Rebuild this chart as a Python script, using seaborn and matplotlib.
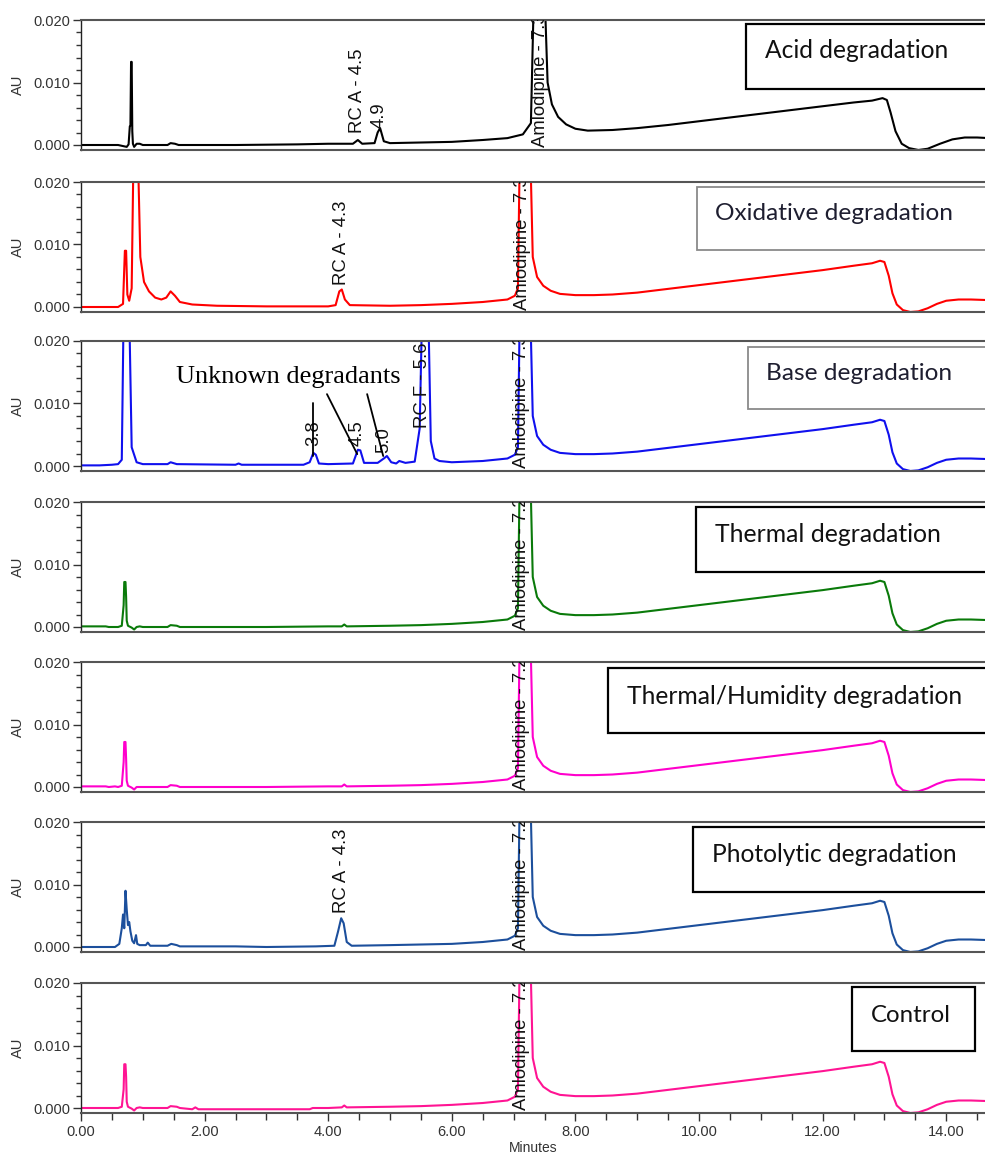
import matplotlib
matplotlib.use("Agg")
import matplotlib.pyplot as plt
from matplotlib.patches import Rectangle
from matplotlib.ticker import MultipleLocator, FormatStrFormatter
import pandas as pd
import seaborn as sns

# ---------------- data (minutes, AU) ----------------
acid_t = [0.00, 0.40, 0.60, 0.74, 0.77, 0.79, 0.80, 0.81, 0.82, 0.83, 0.84, 0.86, 0.90, 0.95, 1.00,
          1.40, 1.45, 1.52, 1.58, 2.50, 3.50, 4.00, 4.40, 4.48, 4.55, 4.75, 4.80, 4.84, 4.90, 5.00,
          5.50, 6.00, 6.50, 6.90, 7.15, 7.28, 7.33, 7.50, 7.55, 7.62, 7.72, 7.85, 8.00, 8.20, 8.60,
          9.00, 9.50, 10.00, 10.50, 11.00, 11.50, 12.00, 12.50, 12.80, 12.97, 13.04, 13.10, 13.18,
          13.28, 13.40, 13.55, 13.70, 13.90, 14.10, 14.30, 14.50, 14.70]
acid_au = [0.0000, 0.0000, 0.0000, -0.0003, 0.0001, 0.0030, 0.0031, 0.0133, 0.0133, 0.0022, 0.0002,
           -0.0003, 0.0002, 0.0002, 0.0000, 0.0000, 0.0003, 0.0002, 0.0000, 0.0000, 0.0001, 0.0002,
           0.0002, 0.0008, 0.0002, 0.0003, 0.0020, 0.0027, 0.0006, 0.0003, 0.0004, 0.0005, 0.0008,
           0.0011, 0.0017, 0.0035, 0.0250, 0.0250, 0.0100, 0.0065, 0.0045, 0.0033, 0.0026, 0.0023,
           0.0024, 0.0027, 0.0032, 0.0038, 0.0044, 0.0050, 0.0056, 0.0062, 0.0068, 0.0071, 0.0075,
           0.0072, 0.0052, 0.0022, 0.0002, -0.0005, -0.0008, -0.0006, 0.0002, 0.0009, 0.0012,
           0.0012, 0.0011]

oxid_t = [0.00, 0.60, 0.68, 0.71, 0.73, 0.75, 0.78, 0.82, 0.85, 0.92, 0.96, 1.02, 1.10, 1.20, 1.30,
          1.38, 1.45, 1.52, 1.60, 1.80, 2.20, 3.00, 4.00, 4.12, 4.18, 4.22, 4.27, 4.35, 5.00, 5.50, 6.00]
oxid_au = [0.0000, 0.0000, 0.0005, 0.0090, 0.0090, 0.0020, 0.0010, 0.0030, 0.0250, 0.0250, 0.0080,
           0.0040, 0.0025, 0.0015, 0.0012, 0.0015, 0.0025, 0.0018, 0.0008, 0.0004, 0.0002, 0.0001,
           0.0001, 0.0003, 0.0025, 0.0028, 0.0012, 0.0003, 0.0002, 0.0003, 0.0005]

base_t = [0.00, 0.30, 0.50, 0.60, 0.66, 0.69, 0.78, 0.82, 0.90, 1.00, 1.40, 1.45, 1.55, 2.50, 2.55,
          2.60, 3.60, 3.70, 3.76, 3.80, 3.85, 4.00, 4.40, 4.48, 4.52, 4.58, 4.80, 4.90, 4.95, 5.02,
          5.10, 5.15, 5.25, 5.40, 5.48, 5.52, 5.62, 5.66, 5.72, 5.80, 6.00]
base_au = [0.0001, 0.0001, 0.0002, 0.0003, 0.0010, 0.0250, 0.0250, 0.0030, 0.0006, 0.0003, 0.0003,
           0.0006, 0.0003, 0.0002, 0.0004, 0.0002, 0.0002, 0.0006, 0.0021, 0.0018, 0.0004, 0.0003,
           0.0004, 0.0026, 0.0025, 0.0005, 0.0005, 0.0012, 0.0016, 0.0006, 0.0004, 0.0008, 0.0005,
           0.0007, 0.0060, 0.0250, 0.0250, 0.0040, 0.0012, 0.0008, 0.0006]

therm_t = [0.00, 0.40, 0.45, 0.60, 0.66, 0.69, 0.70, 0.72, 0.73, 0.74, 0.76, 0.82, 0.86, 0.90, 0.95,
           1.00, 1.40, 1.45, 1.55, 1.60, 3.00, 4.00, 4.22, 4.26, 4.30, 5.00, 5.50, 6.00]
therm_au = [0.0001, 0.0001, 0.0000, 0.0000, 0.0002, 0.0035, 0.0072, 0.0072, 0.0048, 0.0010, 0.0002,
            -0.0001, -0.0004, 0.0000, 0.0001, 0.0000, 0.0000, 0.0003, 0.0002, 0.0000, 0.0000,
            0.0001, 0.0001, 0.0004, 0.0001, 0.0002, 0.0003, 0.0005]

humid_t = [0.00, 0.40, 0.45, 0.55, 0.60, 0.66, 0.69, 0.70, 0.72, 0.73, 0.74, 0.76, 0.82, 0.86, 0.90,
           1.00, 1.40, 1.45, 1.55, 1.60, 3.00, 4.00, 4.22, 4.26, 4.30, 5.00, 5.50, 6.00]
humid_au = [0.0001, 0.0001, 0.0000, 0.0001, 0.0000, 0.0002, 0.0040, 0.0072, 0.0072, 0.0045, 0.0010,
            0.0002, -0.0001, -0.0004, 0.0000, 0.0000, 0.0000, 0.0003, 0.0002, 0.0000, 0.0000,
            0.0001, 0.0001, 0.0004, 0.0001, 0.0002, 0.0003, 0.0005]

photo_t = [0.00, 0.55, 0.62, 0.66, 0.68, 0.70, 0.72, 0.74, 0.76, 0.78, 0.80, 0.83, 0.86, 0.89, 0.91,
           0.95, 1.05, 1.08, 1.12, 1.40, 1.46, 1.55, 1.60, 2.50, 3.00, 3.80, 4.10, 4.16, 4.21, 4.25,
           4.30, 4.38, 5.00, 5.50, 6.00]
photo_au = [0.0000, 0.0000, 0.0005, 0.0030, 0.0052, 0.0030, 0.0090, 0.0060, 0.0035, 0.0040, 0.0025,
            0.0010, 0.0006, 0.0019, 0.0005, 0.0003, 0.0003, 0.0007, 0.0002, 0.0002, 0.0005, 0.0003,
            0.0001, 0.0001, 0.0000, 0.0001, 0.0002, 0.0025, 0.0046, 0.0038, 0.0008, 0.0002, 0.0003,
            0.0004, 0.0005]

ctrl_t = [0.00, 0.60, 0.66, 0.69, 0.70, 0.72, 0.73, 0.74, 0.76, 0.82, 0.86, 0.90, 0.95, 1.00, 1.40,
          1.45, 1.55, 1.60, 1.80, 1.85, 1.90, 3.70, 3.75, 4.00, 4.22, 4.26, 4.30, 5.00, 5.50, 6.00]
ctrl_au = [0.0000, 0.0000, 0.0002, 0.0030, 0.0070, 0.0070, 0.0050, 0.0010, 0.0002, -0.0001, -0.0004,
           0.0000, 0.0001, 0.0000, 0.0000, 0.0003, 0.0002, 0.0000, -0.0002, 0.0001, -0.0002,
           -0.0002, 0.0000, 0.0000, 0.0001, 0.0004, 0.0001, 0.0002, 0.0003, 0.0005]

# amlodipine peak region shared by panels 2-7
amlo_t = [6.50, 6.90, 7.02, 7.07, 7.10, 7.27, 7.31, 7.38, 7.48, 7.60]
amlo_au = [0.0008, 0.0012, 0.0018, 0.0030, 0.0250, 0.0250, 0.0080, 0.0048, 0.0034, 0.0026]

# gradient baseline (after amlodipine) shared by panels 2-7
grad_t = [7.75, 8.00, 8.30, 8.60, 9.00, 9.50, 10.00, 10.50, 11.00, 11.50, 12.00, 12.50, 12.80,
          12.93, 13.00, 13.07, 13.13, 13.20, 13.30, 13.42, 13.55, 13.70, 13.85, 14.00, 14.20,
          14.40, 14.70]
grad_au = [0.0021, 0.0019, 0.0019, 0.0020, 0.0023, 0.0029, 0.0035, 0.0041, 0.0047, 0.0053, 0.0059,
           0.0066, 0.0070, 0.0074, 0.0072, 0.0050, 0.0022, 0.0004, -0.0005, -0.0008, -0.0007,
           -0.0002, 0.0005, 0.0010, 0.0012, 0.0012, 0.0011]

sample_names = ["Acid degradation", "Oxidative degradation", "Base degradation",
                "Thermal degradation", "Thermal/Humidity degradation",
                "Photolytic degradation", "Control"]

peak_labels = [
    [("RC A - 4.5", 4.48, 0.0019), ("4.9", 4.83, 0.0028), ("Amlodipine - 7.3", 7.43, -0.0003)],
    [("RC A - 4.3", 4.21, 0.0035), ("Amlodipine - 7.3", 7.14, -0.0005)],
    [("3.8", 3.77, 0.0032), ("4.5", 4.47, 0.0032), ("5.0", 4.90, 0.0021),
     ("RC F - 5.6", 5.53, 0.0061), ("Amlodipine - 7.3", 7.12, -0.0003)],
    [("Amlodipine - 7.2", 7.13, -0.0004)],
    [("Amlodipine - 7.2", 7.13, -0.0004)],
    [("RC A - 4.3", 4.21, 0.0055), ("Amlodipine - 7.2", 7.13, -0.0004)],
    [("Amlodipine - 7.2", 7.13, -0.0004)],
]

# ---------------- styling / layout ----------------
sns.set_theme(style="ticks")
plt.rcParams["font.family"] = ["Liberation Sans", "DejaVu Sans"]

colors = ["#000000", "#ff0000", "#1010ee", "#0a7a0a", "#ff00cc", "#1c4f9c", "#ff1493"]

W, H = 985, 1154
fig = plt.figure(figsize=(W / 100, H / 100), dpi=100)
fig.patch.set_facecolor("white")

panel_tops = [20, 182, 341, 502, 662, 822, 983]
panel_h = 130
ax_left, ax_right = 81, 985
px_per_min = 61.8
xmax = (ax_right - ax_left) / px_per_min

traces = [
    (acid_t, acid_au),
    (oxid_t + amlo_t + grad_t, oxid_au + amlo_au + grad_au),
    (base_t + amlo_t + grad_t, base_au + amlo_au + grad_au),
    (therm_t + amlo_t + grad_t, therm_au + amlo_au + grad_au),
    (humid_t + amlo_t + grad_t, humid_au + amlo_au + grad_au),
    (photo_t + amlo_t + grad_t, photo_au + amlo_au + grad_au),
    (ctrl_t + amlo_t + grad_t, ctrl_au + amlo_au + grad_au),
]

axes = []
for i, top in enumerate(panel_tops):
    ax = fig.add_axes([ax_left / W, 1 - (top + panel_h) / H,
                       (ax_right - ax_left) / W, panel_h / H])
    t, au = traces[i]
    df = pd.DataFrame({"Minutes": t, "AU": au})
    sns.lineplot(data=df, x="Minutes", y="AU", ax=ax, color=colors[i], linewidth=1.5,
                 estimator=None, sort=False)
    ax.set_xlim(0, xmax)
    ax.set_ylim(-0.0008, 0.020)
    ax.set_facecolor("white")
    ax.yaxis.set_major_locator(MultipleLocator(0.010))
    ax.yaxis.set_minor_locator(MultipleLocator(0.002))
    ax.yaxis.set_major_formatter(FormatStrFormatter("%.3f"))
    ax.tick_params(axis="y", which="major", length=6, width=1, pad=1.5,
                   labelsize=10.5, labelcolor="#333333", color="#333333")
    ax.tick_params(axis="y", which="minor", length=3.5, width=1, color="#333333", left=True)
    ax.set_ylabel("AU", fontsize=10.5, color="#333333")
    ax.yaxis.set_label_coords(-0.062, 0.5)
    ax.set_xlabel("")
    for side in ["top", "bottom"]:
        ax.spines[side].set_color("#555555")
        ax.spines[side].set_linewidth(1.5)
    ax.spines["left"].set_color("#222222")
    ax.spines["left"].set_linewidth(1.0)
    ax.spines["right"].set_visible(False)
    if i < 6:
        ax.tick_params(axis="x", which="both", bottom=False, labelbottom=False)
    else:
        ax.xaxis.set_major_locator(MultipleLocator(2))
        ax.xaxis.set_minor_locator(MultipleLocator(0.5))
        ax.xaxis.set_major_formatter(FormatStrFormatter("%.2f"))
        ax.tick_params(axis="x", which="major", length=6, width=1, pad=3,
                       labelsize=10.5, labelcolor="#333333", color="#333333")
        ax.tick_params(axis="x", which="minor", length=5, width=1, color="#333333", bottom=True)
        ax.set_xlabel("Minutes", fontsize=10, color="#333333", labelpad=1)
    for (s, x, y) in peak_labels[i]:
        ax.text(x, y, s, rotation=90, ha="center", va="bottom", fontsize=13.3,
                color="#111111", clip_on=True, zorder=5)
    axes.append(ax)

# leader lines for unknown degradants in the base panel
ax3 = axes[2]
leaders = [((3.76, 0.0101), (3.76, 0.0016)),
           ((3.98, 0.0115), (4.47, 0.0019)),
           ((4.63, 0.0115), (4.89, 0.0016))]
for (x0, y0), (x1, y1) in leaders:
    ax3.plot([x0, x1], [y0, y1], color="black", lw=1.3, zorder=6)

renderer = fig.canvas.get_renderer()


def fit_width(txt, target_px):
    bb = txt.get_window_extent(renderer)
    txt.set_fontsize(txt.get_fontsize() * target_px / bb.width)


unk = fig.text(288 / W, 1 - 377 / H, "Unknown degradants", ha="center", va="center",
               family=["Liberation Serif", "DejaVu Serif"], fontsize=19, color="black")
fit_width(unk, 225)

# sample boxes: (x0, y0, x1, y1, text_x, text_yc, text_width, edge colour)
boxes = [
    (746, 24, 995, 89, 765, 51, 183, "black"),
    (697, 187, 995, 250, 715, 214, 237, "#8a8a8a"),
    (748, 347, 995, 409, 766, 374, 185, "#8a8a8a"),
    (696, 507, 995, 572, 715, 535, 225, "black"),
    (608, 668, 995, 733, 627, 696, 335, "black"),
    (693, 827, 995, 892, 712, 855, 245, "black"),
    (852, 987, 975, 1051, 871, 1015, 80, "black"),
]
for name, (x0, y0, x1, y1, tx, ty, tw, ec) in zip(sample_names, boxes):
    rect = Rectangle((x0 / W, 1 - y1 / H), (x1 - x0) / W, (y1 - y0) / H,
                     transform=fig.transFigure, facecolor="white", edgecolor=ec,
                     linewidth=1.6 if ec == "black" else 1.3, zorder=20)
    fig.add_artist(rect)
    tcol = "#111111" if ec == "black" else "#1e1e30"
    txt = fig.text(tx / W, 1 - ty / H, name, ha="left", va="center",
                   family=["Lato", "DejaVu Sans"], fontsize=17, color=tcol, zorder=21)
    fit_width(txt, tw)

fig.savefig("out.png", dpi=100, facecolor="white")
